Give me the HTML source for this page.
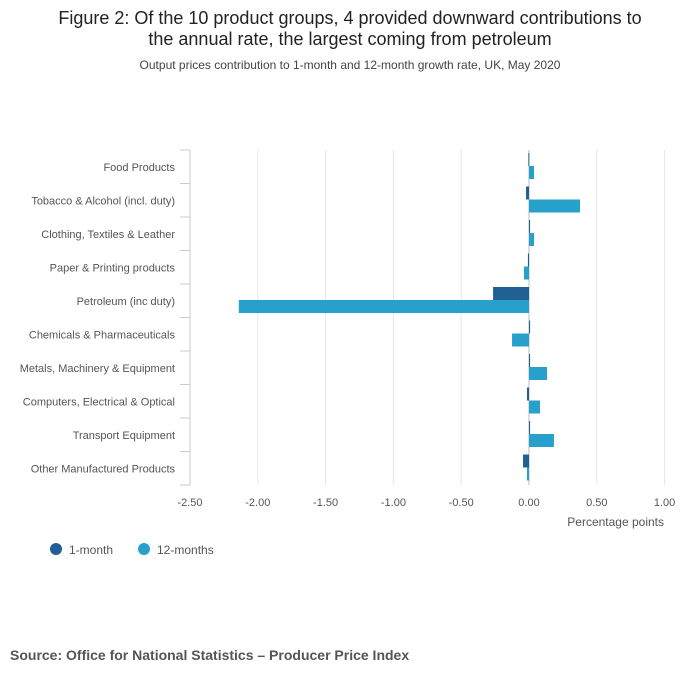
<!DOCTYPE html>
<html><head><meta charset="utf-8"><style>
body{margin:0;background:#fff;font-family:"Liberation Sans",sans-serif}
svg text{font-family:"Liberation Sans",sans-serif}
</style></head><body>
<svg id="c" width="700" height="682">
<text x="350" y="24" text-anchor="middle" font-size="18" fill="#222">Figure 2: Of the 10 product groups, 4 provided downward contributions to</text>
<text x="350" y="45" text-anchor="middle" font-size="18" fill="#222">the annual rate, the largest coming from petroleum</text>
<text x="350" y="69" text-anchor="middle" font-size="12" fill="#444">Output prices contribution to 1-month and 12-month growth rate, UK, May 2020</text>
<g id="grid"></g><g id="bars"></g><g id="labels"></g>
<text x="664" y="526" text-anchor="end" font-size="12" fill="#555">Percentage points</text>
<g>
<circle cx="56" cy="549" r="6" fill="#206095"/>
<text x="69" y="554" font-size="12" fill="#555">1-month</text>
<circle cx="144" cy="549" r="6" fill="#27a0cc"/>
<text x="157" y="554" font-size="12" fill="#555">12-months</text>
</g>
<text x="10" y="660" font-size="14" font-weight="bold" fill="#555">Source: Office for National Statistics – Producer Price Index</text>
</svg>
<script>
const categories=["Food Products","Tobacco & Alcohol (incl. duty)","Clothing, Textiles & Leather","Paper & Printing products","Petroleum (inc duty)","Chemicals & Pharmaceuticals","Metals, Machinery & Equipment","Computers, Electrical & Optical","Transport Equipment","Other Manufactured Products"];
const oneMonth=[-0.005,-0.022,0.008,-0.008,-0.265,0.008,0.008,-0.015,0.008,-0.044];
const twelveMonths=[0.037,0.376,0.037,-0.037,-2.14,-0.125,0.133,0.081,0.184,-0.015];
const ticks=[-2.5,-2.0,-1.5,-1.0,-0.5,0,0.5,1.0];
const tickLabels=["-2.50","-2.00","-1.50","-1.00","-0.50","0.00","0.50","1.00"];
const NS="http://www.w3.org/2000/svg";
const x0=190,x1=664.6,vmin=-2.5,vmax=1.0,top0=150,rowH=33.5;
const xs=v=>x0+(v-vmin)/(vmax-vmin)*(x1-x0);
function mk(g,t,a){const e=document.createElementNS(NS,t);for(const k in a)e.setAttribute(k,a[k]);document.getElementById(g).appendChild(e);return e;}
ticks.forEach((t,i)=>{
 const l=mk('grid','line',{x1:xs(t),x2:xs(t),y1:top0,y2:top0+rowH*categories.length,stroke:t===0?'#bbb':'#e6e6e6','stroke-width':1});
 
 
 const tx=mk('labels','text',{x:xs(t),y:506,'text-anchor':'middle','font-size':11,fill:'#555'});
 tx.textContent=tickLabels[i];
 
 
});
for(let i=0;i<=categories.length;i++){
 const y=top0+rowH*i;
 const l=mk('grid','line',{x1:180,x2:190,y1:y,y2:y,stroke:'#ccc'});
 
 
}
mk('grid','line',{x1:190,x2:190,y1:top0,y2:top0+rowH*10,stroke:'#ccc'});
categories.forEach((c,i)=>{
 const top=top0+rowH*i;
 const t=mk('labels','text',{x:175,y:top+21,'text-anchor':'end','font-size':11,fill:'#555'});
 t.textContent=c;
 
 
 [[oneMonth[i],'#206095',3],[twelveMonths[i],'#27a0cc',16]].forEach(([v,col,off],k)=>{
  const a=xs(0),b=xs(v);
  const r=mk('bars','rect',{x:Math.min(a,b),y:top+off,width:Math.max(Math.abs(b-a),1),height:13,fill:col});
  
  
 });
});
</script>
</body></html>
